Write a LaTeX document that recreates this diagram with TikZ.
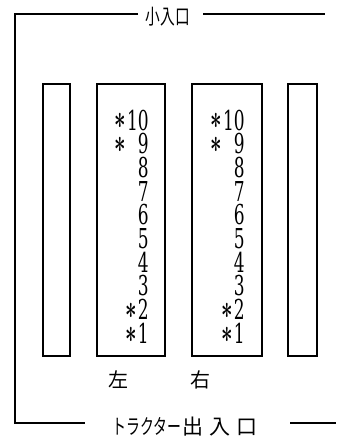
\documentclass[tikz,border=0pt]{standalone}
\usepackage{fontspec}
\setmainfont{DejaVu Serif}
\newfontfamily\jp{Noto Sans CJK JP}
\newcommand\astk{\raisebox{0.04em}{\scalebox{1.3}{\boldmath$\ast$}}\hspace{0.06em}}
\begin{document}
\begin{tikzpicture}[x=1pt,y=-1pt,
  wall/.style={line width=1.5pt},
  stall/.style={draw,line width=1.5pt,inner sep=0,minimum height=272pt},
  dig/.style={inner sep=0,anchor=base east,font=\fontsize{27.4}{28}\selectfont},
  jlab/.style={inner sep=0,font=\jp\fontsize{20}{20}\selectfont}]
\useasboundingbox (0,0) rectangle (340,441);
% stalls
\node[stall,minimum width=27pt] (s1) at (56.5,220) {};
\node[stall,minimum width=68pt] (s2) at (131,220) {};
\node[stall,minimum width=70pt] (s3) at (227,220) {};
\node[stall,minimum width=29pt] (s4) at (302.5,220) {};
% numbers
\foreach \col/\xr in {l/149, r/245}{
  \node[dig] (\col10) at (\xr,130) {\scalebox{0.62}[1]{\astk 10}};
  \node[dig] (\col9) at (\xr,153.7) {\scalebox{0.62}[1]{\astk\phantom{1}9}};
  \foreach \n/\k in {8/2,7/3,6/4,5/5,4/6,3/7}{
    \node[dig] (\col\n) at (\xr,130+23.7*\k) {\scalebox{0.62}[1]{\n}};
  }
  \node[dig] (\col2) at (\xr,319.6) {\scalebox{0.62}[1]{\astk 2}};
  \node[dig] (\col1) at (\xr,343.3) {\scalebox{0.62}[1]{\astk 1}};
}
% side labels
\node[jlab] (left) at (118,380) {左};
\node[jlab] (right) at (200,380) {右};
% entrances
\node[inner sep=0,font=\jp\fontsize{21}{21}\selectfont] (top) at (168,17) {\scalebox{0.7}[1]{小入口}};
\node[inner sep=0,font=\jp\fontsize{21}{21}\selectfont] (bot) at (185,427)
  {\scalebox{0.66}[1]{トラクター}\hspace{1pt}出\hspace{6pt}入\hspace{6pt}口};
% outer boundary
\coordinate (tl) at (15,14);
\coordinate (bl) at (15,423);
\coordinate (t1) at (138,14);
\coordinate (t2) at (203,14);
\coordinate (t3) at (325,14);
\coordinate (b1) at (85,423);
\coordinate (b2) at (290,423);
\coordinate (b3) at (336,423);
\draw[wall] (t1) -- (tl) -- (bl) -- (b1);
\draw[wall] (t2) -- (t3);
\draw[wall] (b2) -- (b3);
\end{tikzpicture}
\end{document}
